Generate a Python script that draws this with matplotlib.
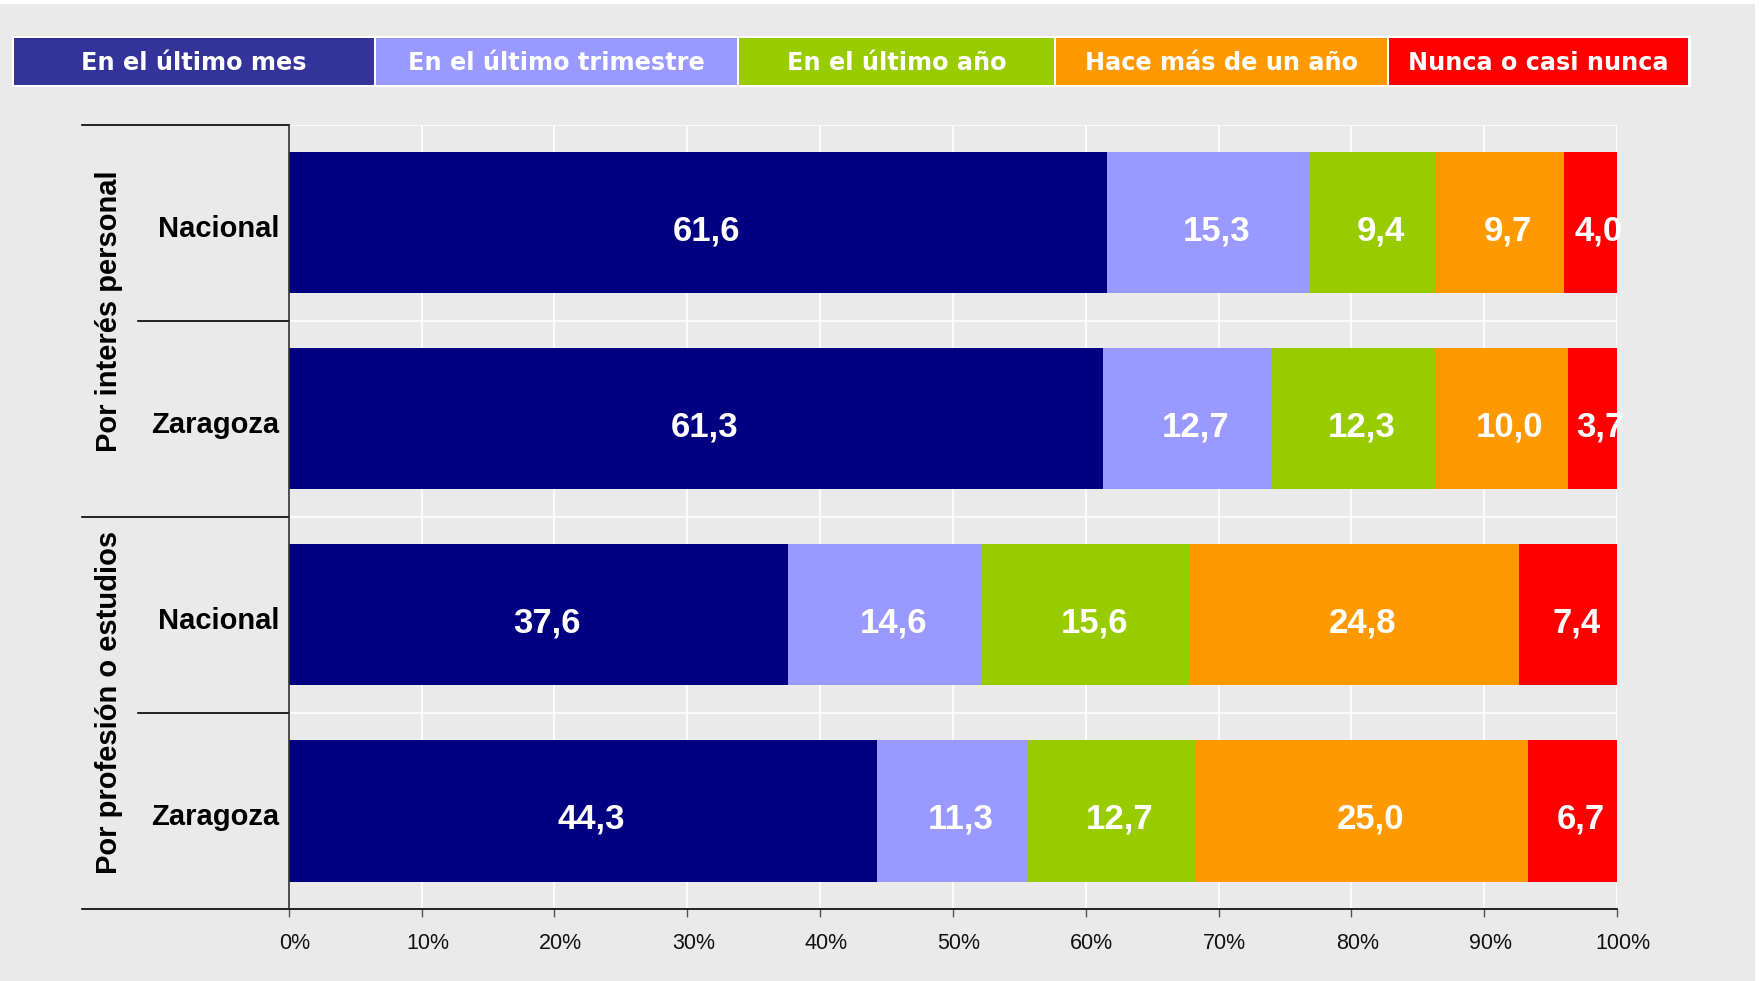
import matplotlib
matplotlib.use('Agg')
import matplotlib.pyplot as plt
from matplotlib.patches import Rectangle
from matplotlib.lines import Line2D
import matplotlib.transforms as mtransforms
import numpy as np

# ---------------- data ----------------
groups = ['Por interés personal', 'Por profesión o estudios']
rows = ['Nacional', 'Zaragoza', 'Nacional', 'Zaragoza']
row_group = [0, 0, 1, 1]
series = ['En el último mes', 'En el último trimestre', 'En el último año',
          'Hace más de un año', 'Nunca o casi nunca']
ultimo_mes = [61.6, 61.3, 37.6, 44.3]
ultimo_trimestre = [15.3, 12.7, 14.6, 11.3]
ultimo_anio = [9.4, 12.3, 15.6, 12.7]
hace_mas_anio = [9.7, 10.0, 24.8, 25.0]
nunca = [4.0, 3.7, 7.4, 6.7]
xticks = [0, 10, 20, 30, 40, 50, 60, 70, 80, 90, 100]
xtick_labels = ['0%', '10%', '20%', '30%', '40%', '50%', '60%', '70%', '80%', '90%', '100%']

values = [ultimo_mes, ultimo_trimestre, ultimo_anio, hace_mas_anio, nunca]
bar_colors = ['#000080', '#9999FF', '#99CC00', '#FF9900', '#FF0000']
legend_colors = ['#333399', '#9999FF', '#99CC00', '#FF9900', '#FF0000']

BG = '#eaeaea'
W, H = 1762, 981

fig = plt.figure(figsize=(W / 100, H / 100), dpi=100, facecolor='white')


def fx(x):
    return x / W


def fy(y):
    return 1 - y / H


# gray background panel
fig.patches.append(Rectangle((0, fy(981)), fx(1755), fy(4) - fy(981),
                             transform=fig.transFigure, facecolor=BG,
                             edgecolor='none', zorder=-10))

# ---------------- axes ----------------
left, right, top, bottom = 288.8, 1617, 124.7, 909
ax = fig.add_axes([fx(left), fy(bottom), fx(right) - fx(left), fy(top) - fy(bottom)])
ax.set_facecolor(BG)

y = np.arange(len(rows))
bh = 0.72
cum = np.zeros(len(rows))
for vals, col in zip(values, bar_colors):
    v = np.array(vals)
    ax.barh(y, v, left=cum, height=bh, color=col, edgecolor='none', zorder=3)
    for yi, (c, val) in enumerate(zip(cum, v)):
        ax.annotate(f'{val:.1f}'.replace('.', ','), (c + val / 2, yi),
                    xytext=(6, -6), textcoords='offset points',
                    ha='center', va='center', color='white',
                    fontsize=25, fontweight='bold', family='Liberation Sans',
                    zorder=5, annotation_clip=False)
    cum += v

ax.set_xlim(0, 100)
ax.set_ylim(3.5, -0.5)

# grid
for xt in xticks[1:]:
    ax.axvline(xt, color='white', lw=1.2, zorder=1)
for yb in [-0.5, 0.5, 1.5, 2.5]:
    ax.axhline(yb, color='white', lw=1.2, zorder=1)

for s in ['top', 'right']:
    ax.spines[s].set_visible(False)
ax.spines['left'].set_color('#333333')
ax.spines['left'].set_linewidth(1.2)
ax.spines['left'].set_zorder(4)
ax.spines['bottom'].set_color('black')
ax.spines['bottom'].set_linewidth(1.2)

# ticks
ax.set_xticks(xticks)
ax.set_xticklabels(xtick_labels, fontsize=15.5, family='Liberation Sans', color='#111111')
ax.tick_params(axis='x', length=6, width=1, color='#555555', pad=11)
offset = mtransforms.ScaledTranslation(6 / 100, 0, fig.dpi_scale_trans)
for lab in ax.get_xticklabels():
    lab.set_transform(lab.get_transform() + offset)

ax.set_yticks(y)
ax.set_yticklabels(rows, fontsize=21, fontweight='bold', family='Liberation Sans')
ax.tick_params(axis='y', length=0, pad=7)
yoff = mtransforms.ScaledTranslation(0, -3 / 100, fig.dpi_scale_trans)
for lab in ax.get_yticklabels():
    lab.set_transform(lab.get_transform() + yoff)

# left category lines
trans = mtransforms.blended_transform_factory(ax.transAxes, ax.transData)
xg = (82 - left) / (right - left)
xr = (138 - left) / (right - left)
for yb in [-0.5, 1.5, 3.5]:
    ax.add_line(Line2D([xg, 0], [yb, yb], transform=trans, color='black',
                       lw=1.2, clip_on=False, zorder=4))
for yb in [0.5, 2.5]:
    ax.add_line(Line2D([xr, 0], [yb, yb], transform=trans, color='black',
                       lw=1.2, clip_on=False, zorder=4))

# group labels
xl = (109 - left) / (right - left)
gshift = mtransforms.ScaledTranslation(0, 10 / 100, fig.dpi_scale_trans)
for gi, g in enumerate(groups):
    ys = [yi for yi, rg in zip(y, row_group) if rg == gi]
    ax.text(xl, np.mean(ys), g, transform=trans + gshift, rotation=90, ha='center',
            va='center', fontsize=21, fontweight='bold', family='Liberation Sans')

# ---------------- legend strip ----------------
edges = [13.5, 375.2, 738, 1055, 1388, 1689]
ltop, lbot = 38, 84.5
fig.patches.append(Rectangle((fx(edges[0] - 2), fy(lbot + 2)),
                             fx(edges[-1] + 2) - fx(edges[0] - 2),
                             fy(ltop - 2) - fy(lbot + 2),
                             transform=fig.transFigure, facecolor='white',
                             edgecolor='none', zorder=-5))
for i, (name, col) in enumerate(zip(series, legend_colors)):
    x0 = edges[i] + (1 if i > 0 else 0)
    x1 = edges[i + 1] - 1
    fig.patches.append(Rectangle((fx(x0), fy(lbot)), fx(x1) - fx(x0),
                                 fy(ltop) - fy(lbot), transform=fig.transFigure,
                                 facecolor=col, edgecolor='none', zorder=-4))
    fig.text(fx((x0 + x1) / 2), fy((ltop + lbot) / 2 + 2), name, ha='center',
             va='center', color='white', fontsize=17.3, fontweight='bold',
             family='DejaVu Sans')

fig.savefig('out.png', dpi=100, facecolor='white')
